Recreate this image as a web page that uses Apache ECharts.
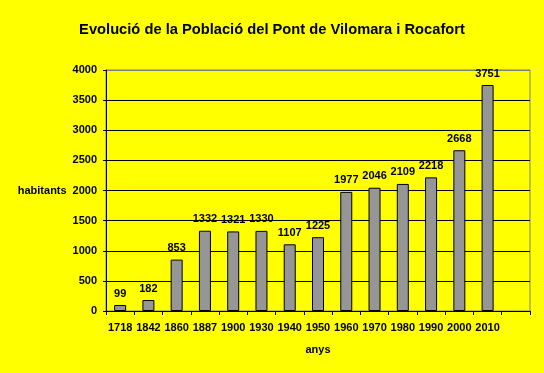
<!DOCTYPE html>
<html><head><meta charset="utf-8">
<script src="https://cdn.jsdelivr.net/npm/echarts@6/dist/echarts.min.js"></script>
<style>html,body{margin:0;padding:0;background:#FFFF00}#c{width:544px;height:373px}</style>
</head><body><div id="c"></div>
<script>
const categories = ['1718','1842','1860','1887','1900','1930','1940','1950','1960','1970','1980','1990','2000','2010',''];
const habitants = [99,182,853,1332,1321,1330,1107,1225,1977,2046,2109,2218,2668,3751,null];
const yTicks = {min:0, max:4000, interval:500};
const titleText = 'Evolució de la Població del Pont de Vilomara i Rocafort';

const font = 'Liberation Sans, Arial, sans-serif';
const chart = echarts.init(document.getElementById('c'));
chart.setOption({
  backgroundColor:'#FFFF00',
  animation:false,
  title:{text:titleText,left:'center',top:17,textStyle:{fontFamily:font,fontWeight:'bold',fontSize:14.7,color:'#000'}},
  grid:{left:106,right:14,top:70,bottom:62,show:true,borderColor:'#808080',borderWidth:1,backgroundColor:'transparent'},
  xAxis:{type:'category',data:categories,name:'anys',nameLocation:'middle',nameGap:33,
    nameTextStyle:{fontFamily:font,fontWeight:'bold',fontSize:11,color:'#000'},
    axisLine:{lineStyle:{color:'#000',width:1}},
    axisTick:{show:true,length:4,lineStyle:{color:'#000'},alignWithLabel:false},
    axisLabel:{fontFamily:font,fontWeight:'bold',fontSize:11,color:'#000',margin:11,interval:0}},
  yAxis:{type:'value',min:yTicks.min,max:yTicks.max,interval:yTicks.interval,name:'habitants',nameLocation:'middle',nameRotate:0,nameGap:34,
    nameTextStyle:{fontFamily:font,fontWeight:'bold',fontSize:11,color:'#000',align:'right'},
    axisLine:{show:true,lineStyle:{color:'#000',width:1}},
    axisTick:{show:true,length:3,lineStyle:{color:'#000'}},
    axisLabel:{fontFamily:font,fontWeight:'bold',fontSize:11,color:'#000',margin:9,formatter:function(v){return String(v);}},
    splitLine:{show:true,lineStyle:{color:['#000','#000','#000','#000','#000','#000','#000','#000','#808080'],width:1}}},
  series:[{type:'bar',data:habitants,barWidth:12,
    itemStyle:{color:'#969696',borderColor:'#000',borderWidth:1},
    label:{show:true,position:'top',distance:6,fontFamily:font,fontWeight:'bold',fontSize:11,color:'#000'}}]
});
</script></body></html>
